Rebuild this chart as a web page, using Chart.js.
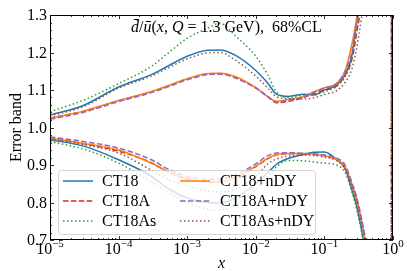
<!DOCTYPE html>
<html><head><meta charset="utf-8">
<script src="https://cdn.jsdelivr.net/npm/chart.js@4/dist/chart.umd.min.js"></script>
<style>html,body{margin:0;padding:0;background:#fff;}</style>
</head><body>
<canvas id="c" width="407" height="271"></canvas>
<script>
// ---- data ----
const xGrid = [1e-5,3e-5,1e-4,3e-4,5e-4,1e-3,2e-3,3e-3,5e-3,1e-2,1.5e-2,2e-2,3e-2,5e-2,7e-2,0.1,0.15,0.2,0.25,0.3,0.4,0.6,0.945,0.955];
const xTickLabels = ['10','10','10','10','10','10'];
const xTickExps = ['\u22125','\u22124','\u22123','\u22122','\u22121','0'];
const yTicks = [0.7,0.8,0.9,1.0,1.1,1.2,1.3];

const seriesNames = ['CT18','CT18A','CT18As','CT18+nDY','CT18A+nDY','CT18As+nDY'];
const seriesColors = ['#1f77b4','#d62728','#2ca02c','#ff7f0e','#9467bd','#8c564b'];

const ct18Up    = [1.033,1.058,1.108,1.141,1.162,1.19,1.206,1.207,1.193,1.152,1.118,1.089,1.083,1.089,1.087,1.100,1.113,1.14,1.19,1.29,1.45,2.0,3.0,3.0];
const ct18Lo    = [0.967,0.951,0.914,0.870,0.840,0.812,0.800,0.799,0.812,0.850,0.880,0.902,0.918,0.928,0.934,0.935,0.915,0.89,0.835,0.785,0.66,0.4,-1,-1];
const ct18aUp   = [1.025,1.043,1.071,1.095,1.109,1.129,1.143,1.144,1.134,1.106,1.082,1.066,1.070,1.080,1.090,1.100,1.110,1.14,1.18,1.26,1.42,2.0,2.5,-1];
const ct18aLo   = [0.971,0.957,0.937,0.906,0.883,0.862,0.854,0.855,0.865,0.896,0.917,0.927,0.930,0.930,0.928,0.924,0.914,0.893,0.848,0.80,0.69,0.45,-1,2.5];
const ct18asUp  = [1.042,1.072,1.117,1.163,1.195,1.238,1.265,1.278,1.245,1.19,1.14,1.095,1.08,1.086,1.087,1.095,1.11,1.135,1.18,1.27,1.45,2.0,3.0,3.0];
const ct18asLo  = [0.962,0.943,0.905,0.855,0.830,0.800,0.782,0.780,0.792,0.835,0.868,0.895,0.912,0.911,0.908,0.905,0.900,0.88,0.83,0.775,0.66,0.4,-1,-1];
const ct18nUp   = [1.025,1.043,1.072,1.096,1.110,1.130,1.144,1.145,1.136,1.106,1.082,1.070,1.075,1.083,1.095,1.106,1.118,1.15,1.22,1.30,1.5,2.0,3.0,3.0];
const ct18nLo   = [0.972,0.958,0.940,0.905,0.885,0.864,0.856,0.856,0.866,0.897,0.918,0.928,0.931,0.931,0.929,0.925,0.915,0.895,0.85,0.805,0.69,0.45,-1,-1];
const ct18anUp  = [1.022,1.040,1.069,1.093,1.107,1.127,1.141,1.142,1.132,1.105,1.082,1.068,1.072,1.082,1.094,1.105,1.116,1.15,1.20,1.29,1.48,2.0,3.0,3.0];
const ct18anLo  = [0.975,0.963,0.945,0.914,0.891,0.870,0.862,0.863,0.873,0.903,0.925,0.932,0.933,0.931,0.930,0.927,0.919,0.90,0.855,0.81,0.70,0.46,-1,-1];
const ct18asnUp = [1.031,1.055,1.105,1.137,1.157,1.183,1.199,1.200,1.180,1.137,1.105,1.082,1.077,1.076,1.079,1.088,1.098,1.12,1.155,1.22,1.40,2.0,3.0,3.0];
const ct18asnLo = [0.970,0.955,0.932,0.886,0.863,0.845,0.830,0.828,0.835,0.870,0.903,0.916,0.924,0.926,0.925,0.921,0.912,0.89,0.845,0.80,0.69,0.45,-1,-1];

const bands = [[ct18Up,ct18Lo],[ct18aUp,ct18aLo],[ct18asUp,ct18asLo],[ct18nUp,ct18nLo],[ct18anUp,ct18anLo],[ct18asnUp,ct18asnLo]];
const dashes = [[],[5.5,2.4],[1.5,2.5],[],[5.5,2.4],[1.5,2.5]];

const datasets = [];
bands.forEach((pair, i) => {
  pair.forEach((vals, j) => {
    datasets.push({
      label: seriesNames[i] + (j === 0 ? ' up' : ' low'),
      data: xGrid.map((x, k) => ({x: x, y: vals[k]})),
      borderColor: seriesColors[i],
      borderWidth: 1.5,
      borderDash: dashes[i],
      pointRadius: 0,
      fill: false,
      cubicInterpolationMode: 'monotone',
      order: -(i * 2 + j)
    });
  });
});

const SERIF = '"Liberation Serif", "DejaVu Serif", serif';

const decor = {
  id: 'decor',
  afterDatasetsDraw(chart) {
    const ctx = chart.ctx;
    const a = chart.chartArea;
    const xs = chart.scales.x, ys = chart.scales.y;
    ctx.save();
    // annotation
    const parts = [
      ['italic', 'd\u0304'], ['normal', '/'], ['italic', 'u\u0304'], ['normal', '('],
      ['italic', 'x'], ['normal', ', '], ['italic', 'Q'], ['normal', ' = 1.3 GeV),  68%CL']
    ];
    let tx = 131;
    ctx.fillStyle = '#000';
    ctx.textBaseline = 'alphabetic';
    ctx.textAlign = 'left';
    parts.forEach(p => {
      ctx.font = p[0] + ' 16px ' + SERIF;
      ctx.fillText(p[1], tx, 32);
      tx += ctx.measureText(p[1]).width;
    });

    // legend
    const lx = 58.5, ly = 170.5, lw = 257, lh = 64, r = 3;
    ctx.beginPath();
    ctx.moveTo(lx + r, ly);
    ctx.lineTo(lx + lw - r, ly); ctx.arcTo(lx + lw, ly, lx + lw, ly + r, r);
    ctx.lineTo(lx + lw, ly + lh - r); ctx.arcTo(lx + lw, ly + lh, lx + lw - r, ly + lh, r);
    ctx.lineTo(lx + r, ly + lh); ctx.arcTo(lx, ly + lh, lx, ly + lh - r, r);
    ctx.lineTo(lx, ly + r); ctx.arcTo(lx, ly, lx + r, ly, r);
    ctx.closePath();
    ctx.fillStyle = 'rgba(255,255,255,0.8)';
    ctx.fill();
    ctx.strokeStyle = 'rgba(204,204,204,0.8)';
    ctx.lineWidth = 1;
    ctx.stroke();
    const colX = [[63, 93, 102], [180, 210, 220]];
    const rowY = [181, 201, 221];
    seriesNames.forEach((name, i) => {
      const c = colX[Math.floor(i / 3)], yy = rowY[i % 3];
      ctx.beginPath();
      ctx.setLineDash(dashes[i]);
      ctx.strokeStyle = seriesColors[i];
      ctx.lineWidth = 1.5;
      ctx.moveTo(c[0], yy); ctx.lineTo(c[1], yy); ctx.stroke();
      ctx.setLineDash([]);
      ctx.fillStyle = '#000';
      ctx.font = '16px ' + SERIF;
      ctx.textBaseline = 'middle';
      ctx.fillText(name, c[2], yy + 1);
    });

    // frame
    ctx.strokeStyle = '#000';
    ctx.lineWidth = 1;
    ctx.strokeRect(a.left + 0.5, a.top + 0.5, a.right - a.left - 1, a.bottom - a.top - 1);
    // ticks
    ctx.lineWidth = 0.8;
    ctx.beginPath();
    for (let e = -5; e <= 0; e++) {
      for (let k = 1; k <= 9; k++) {
        const v = k * Math.pow(10, e);
        if (v > 1.0001) break;
        const px = Math.round(xs.getPixelForValue(v)) + 0.5;
        const len = k === 1 ? 4 : 2;
        ctx.moveTo(px, a.bottom); ctx.lineTo(px, a.bottom - len);
        ctx.moveTo(px, a.top); ctx.lineTo(px, a.top + len);
      }
    }
    for (let i = 0; i <= 30; i++) {
      const v = 0.7 + i * 0.02;
      const py = Math.round(ys.getPixelForValue(v)) + 0.5;
      const len = i % 5 === 0 ? 4 : 2;
      ctx.moveTo(a.left, py); ctx.lineTo(a.left + len, py);
      ctx.moveTo(a.right, py); ctx.lineTo(a.right - len, py);
    }
    ctx.stroke();

    // y tick labels
    ctx.fillStyle = '#000';
    ctx.font = '16px ' + SERIF;
    ctx.textAlign = 'right';
    ctx.textBaseline = 'middle';
    yTicks.forEach(v => {
      ctx.fillText(v.toFixed(1), 47, ys.getPixelForValue(v) + 1);
    });
    // x tick labels
    ctx.textAlign = 'left';
    ctx.textBaseline = 'alphabetic';
    xTickLabels.forEach((lab, i) => {
      const px = xs.getPixelForValue(Math.pow(10, i - 5));
      ctx.font = '16px ' + SERIF;
      const w1 = ctx.measureText(lab).width;
      ctx.font = '11px ' + SERIF;
      const w2 = ctx.measureText(xTickExps[i]).width;
      const x0 = px - (w1 + w2) / 2;
      ctx.font = '16px ' + SERIF;
      ctx.fillText(lab, x0, 254);
      ctx.font = '11px ' + SERIF;
      ctx.fillText(xTickExps[i], x0 + w1, 247);
    });
    // axis titles
    ctx.font = 'italic 16px ' + SERIF;
    ctx.textAlign = 'center';
    ctx.fillText('x', (a.left + a.right) / 2, 268);
    ctx.save();
    ctx.translate(17, (a.top + a.bottom) / 2);
    ctx.rotate(-Math.PI / 2);
    ctx.font = '16px ' + SERIF;
    ctx.textBaseline = 'middle';
    ctx.fillText('Error band', 0, 0);
    ctx.restore();
    ctx.restore();
  }
};

new Chart(document.getElementById('c').getContext('2d'), {
  type: 'line',
  data: { datasets },
  options: {
    responsive: false, animation: false, devicePixelRatio: 1,
    layout: { padding: { top: 15, right: 14, left: 0, bottom: 0 } },
    scales: {
      x: { type: 'logarithmic', min: 1e-5, max: 1, ticks: { display: false }, grid: { display: false }, border: { display: false },
           afterFit: s => { s.height = 31; } },
      y: { type: 'linear', min: 0.7, max: 1.3,
           ticks: { display: false }, grid: { display: false }, border: { display: false },
           afterFit: s => { s.width = 50; } }
    },
    plugins: { legend: { display: false }, tooltip: { enabled: false } }
  },
  plugins: [decor]
});
</script>
</body></html>
